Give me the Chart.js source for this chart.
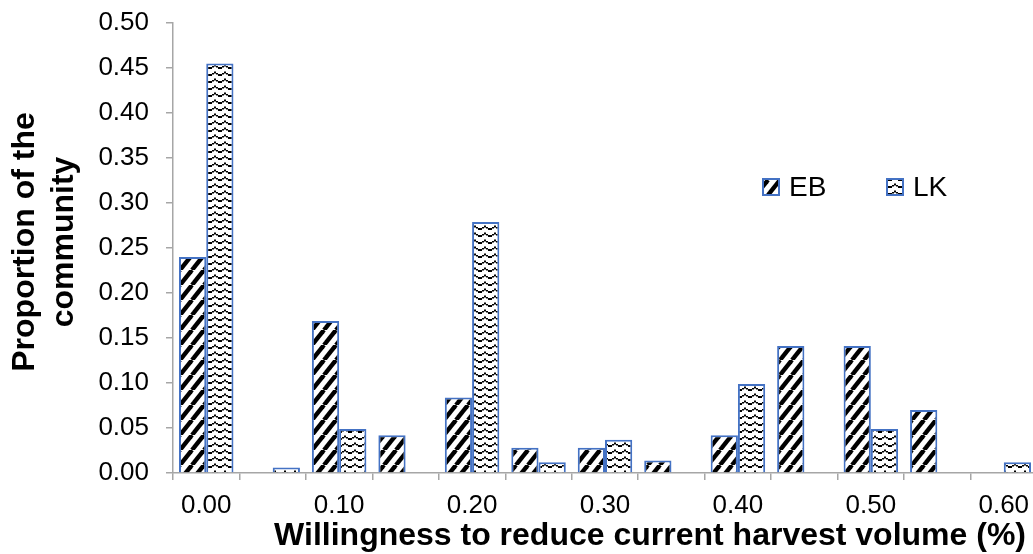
<!DOCTYPE html>
<html>
<head>
<meta charset="utf-8">
<script src="https://cdn.jsdelivr.net/npm/chart.js@4.4.1/dist/chart.umd.min.js"></script>
<style>
    html, body { margin: 0; padding: 0; background: #fff; overflow: hidden; }
    #wrap { position: absolute; left: 0; top: 0; width: 1040px; height: 554px; }
</style>
</head>
<body>
<div id="wrap"><canvas id="chart"></canvas></div>
<script>
// Willingness categories (every other one is labelled on the axis)
const categories = ['0.00', '0.05', '0.10', '0.15', '0.20', '0.25', '0.30',
                    '0.35', '0.40', '0.45', '0.50', '0.55', '0.60'];
const ebValues = [0.240, 0, 0.169, 0.042, 0.084, 0.028, 0.028, 0.014, 0.042, 0.141, 0.141, 0.070, 0];
const lkValues = [0.455, 0.006, 0.049, 0, 0.279, 0.012, 0.037, 0, 0.099, 0, 0.049, 0, 0.012];
const seriesNames = ['EB', 'LK'];
const yTitle = ['Proportion of the', 'community'];
const xTitle = 'Willingness to reduce current harvest volume (%)';

const FONT = "'Liberation Sans', Arial, sans-serif";
const BORDER = '#4472c4';
const AXIS = '#a6a6a6';

// Diagonal stripe fill for EB
function stripePattern() {
    const w = 12, h = 15;
    const c = document.createElement('canvas');
    c.width = w; c.height = h;
    const g = c.getContext('2d');
    g.fillStyle = '#fff';
    g.fillRect(0, 0, w, h);
    g.strokeStyle = '#000';
    g.lineWidth = 4.4;
    for (let k = -1; k <= 1; k++) {
        g.beginPath();
        g.moveTo(k * w, h);
        g.lineTo(k * w + w, 0);
        g.stroke();
    }
    return g.createPattern(c, 'repeat');
}

// Chevron (zigzag) fill for LK
function chevronPattern() {
    const w = 10, h = 7;
    const c = document.createElement('canvas');
    c.width = w; c.height = h;
    const g = c.getContext('2d');
    g.fillStyle = '#fff';
    g.fillRect(0, 0, w, h);
    g.fillStyle = '#000';
    // blocky chevron: ends low, peak high
    g.fillRect(0, 4, 2, 2);
    g.fillRect(2, 3, 2, 1.5);
    g.fillRect(4, 1.5, 2, 2);
    g.fillRect(6, 3, 2, 1.5);
    g.fillRect(8, 4, 2, 2);
    return g.createPattern(c, 'repeat');
}

const fills = [stripePattern(), chevronPattern()];

// Axis titles and the legend drawn inside the plot
const decorations = {
    id: 'decorations',
    afterDraw(chart) {
        const ctx = chart.ctx;
        const area = chart.chartArea;
        ctx.save();
        ctx.fillStyle = '#000';

        // y title, two rotated lines
        ctx.font = 'bold 32px ' + FONT;
        ctx.textAlign = 'center';
        ctx.textBaseline = 'middle';
        const cy = (area.top + area.bottom) / 2 - 6;
        [25, 64].forEach((x, i) => {
            ctx.save();
            ctx.translate(x, cy);
            ctx.rotate(-Math.PI / 2);
            ctx.fillText(yTitle[i], 0, 0);
            ctx.restore();
        });

        // x title
        ctx.textBaseline = 'alphabetic';
        ctx.textAlign = 'right';
        ctx.fillText(xTitle, area.right - 11, 545);

        // legend
        ctx.font = '28px ' + FONT;
        ctx.textAlign = 'left';
        ctx.textBaseline = 'middle';
        const spots = [763, 887];
        chart.data.datasets.forEach((ds, i) => {
            const x = spots[i], y = 179;
            ctx.fillStyle = ds.backgroundColor;
            ctx.fillRect(x, y, 16, 16);
            ctx.strokeStyle = BORDER;
            ctx.lineWidth = 2;
            ctx.strokeRect(x, y, 16, 16);
            ctx.fillStyle = '#000';
            ctx.fillText(ds.label, x + 26, y + 9);
        });
        ctx.restore();
    }
};

new Chart(document.getElementById('chart'), {
    type: 'bar',
    data: {
        labels: categories,
        datasets: [
            { label: seriesNames[0], data: ebValues, backgroundColor: fills[0] },
            { label: seriesNames[1], data: lkValues, backgroundColor: fills[1] }
        ]
    },
    options: {
        responsive: true,
        maintainAspectRatio: false,
        animation: false,
        devicePixelRatio: 1,
        layout: { padding: { top: 23, right: 3, left: 0, bottom: 0 } },
        datasets: {
            bar: {
                borderColor: BORDER,
                borderWidth: 2,
                categoryPercentage: 0.82,
                barPercentage: 1.0
            }
        },
        plugins: {
            legend: { display: false },
            tooltip: { enabled: false }
        },
        scales: {
            x: {
                grid: {
                    display: true,
                    drawOnChartArea: false,
                    drawTicks: true,
                    tickLength: 7,
                    offset: true,
                    color: AXIS,
                    lineWidth: 1.5
                },
                border: { color: AXIS, width: 1.5 },
                ticks: {
                    autoSkip: false,
                    maxRotation: 0,
                    padding: 10,
                    color: '#000',
                    font: { family: FONT, size: 26 },
                    callback: (v, i) => (i % 2 === 0 ? categories[i] : '')
                },
                afterFit: scale => {
                    scale.height = 81;
                    scale.paddingLeft = 0;
                    scale.paddingRight = 0;
                }
            },
            y: {
                min: 0,
                max: 0.5,
                grid: {
                    drawOnChartArea: false,
                    drawTicks: true,
                    tickLength: 7,
                    color: AXIS,
                    lineWidth: 1.5
                },
                border: { color: AXIS, width: 1.5 },
                ticks: {
                    stepSize: 0.05,
                    padding: 17,
                    color: '#000',
                    font: { family: FONT, size: 26 },
                    callback: v => v.toFixed(2)
                },
                afterFit: scale => {
                    scale.width = 173;
                    scale.paddingTop = 0;
                    scale.paddingBottom = 0;
                }
            }
        }
    },
    plugins: [decorations]
});
</script>
</body>
</html>
